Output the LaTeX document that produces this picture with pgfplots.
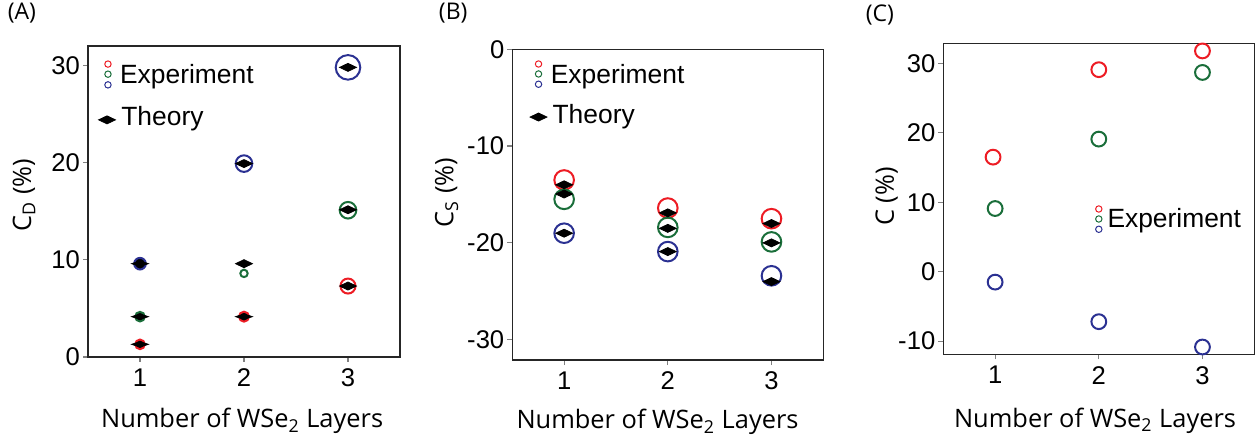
\documentclass[border=0pt]{standalone}
\usepackage{pgfplots}
\pgfplotsset{compat=1.18}
\usepackage{fontspec}
\setmainfont{Liberation Sans}
\newfontfamily\labfont{Open Sans}
\definecolor{cred}{RGB}{237,28,36}
\definecolor{cgreen}{RGB}{26,110,58}
\definecolor{cblue}{RGB}{43,49,146}
\tikzset{
 lt/.style={anchor=base west, inner sep=0pt, font=\fontsize{13.2}{15}\selectfont},
 pl/.style={anchor=center, inner sep=0pt, font=\labfont\fontsize{11.5}{13}\selectfont},
}
\pgfplotsset{
 base/.style={scale only axis, anchor=north west, xmin=0.5, xmax=3.5, xtick={1,2,3},
   tick pos=left, tick align=outside, major tick length=2.5pt,
   tick style={black!50, line width=0.6pt},
   axis line style={black!85, line width=0.6pt},
   ticklabel style={font=\fontsize{12.8}{14}\selectfont},
   yticklabel style={xshift=2pt},
   /pgf/number format/assume math mode=true, clip=false,
   label style={font=\labfont\fontsize{12.7}{15}\selectfont},
   xlabel={Number of WSe\textsubscript{2} Layers},
   ylabel style={anchor=center},
   xlabel style={anchor=center}},
 exp/.style={only marks, mark=o, line width=1pt},
 expf/.style={only marks, mark=*, line width=1pt, mark options={fill=black}},
 th/.style={only marks, mark=diamond*, mark size=2pt, black, mark options={xscale=2.8}},
 legc/.style={only marks, mark=o, mark size=1.6pt, line width=0.5pt},
}
\begin{document}
\begin{tikzpicture}
\useasboundingbox (0,0) rectangle (629pt,219pt);
% ---------- (A)
\begin{axis}[base, at={(44pt,196pt)}, width=156pt, height=155.5pt,
  ymin=0, ymax=32, ytick={0,10,20,30},
  ylabel={C\textsubscript{D} (\%)},
  ylabel style={at={(axis description cs:-0.205,0.521)}},
  xlabel style={at={(axis description cs:0.494,-0.205)}}]
\addplot[expf, cblue, mark size=2.9pt] coordinates {(1,9.6)};
\addplot[expf, cgreen, mark size=2.4pt] coordinates {(1,4.15)};
\addplot[expf, cred, mark size=2.4pt] coordinates {(1,1.3)};
\addplot[exp, cblue, mark size=4.15pt] coordinates {(2,19.9)};
\addplot[exp, cgreen, mark size=1.85pt] coordinates {(2,8.6)};
\addplot[expf, cred, mark size=2.5pt] coordinates {(2,4.15)};
\addplot[exp, cblue, mark size=6.15pt] coordinates {(3,29.8)};
\addplot[exp, cgreen, mark size=4.15pt] coordinates {(3,15.1)};
\addplot[exp, cred, mark size=3.75pt] coordinates {(3,7.3)};
\addplot[th] coordinates {(2,19.9) (2,9.6) (3,29.8) (3,15.15) (3,7.3)};
\addplot[th, mark options={xscale=2.8, yscale=0.7}] coordinates {(1,9.6) (1,4.15) (1,1.3) (2,4.15)};
% legend
\addplot[legc, cred] coordinates {(0.692,30.14)};
\addplot[legc, cgreen] coordinates {(0.692,29.1)};
\addplot[legc, cblue] coordinates {(0.692,28.0)};
\addplot[th] coordinates {(0.683,24.4)};
\node[lt] at (axis cs:0.805,28.16) {Experiment};
\node[lt] at (axis cs:0.817,23.77) {Theory};
\node[pl] at (axis description cs:-0.212,1.106) {(A)};
\end{axis}
% ---------- (B)
\begin{axis}[base, at={(256.15pt,194.35pt)}, width=155.5pt, height=155.35pt,
  ymin=-32.1, ymax=0, ytick={-30,-20,-10,0},
  ylabel={C\textsubscript{S} (\%)},
  ylabel style={at={(axis description cs:-0.211,0.539)}},
  xlabel style={at={(axis description cs:0.467,-0.199)}}]
\addplot[exp, cred, mark size=4.9pt] coordinates {(1,-13.5) (2,-16.4) (3,-17.5)};
\addplot[exp, cgreen, mark size=4.9pt] coordinates {(1,-15.5) (2,-18.4) (3,-19.9)};
\addplot[exp, cblue, mark size=4.9pt] coordinates {(1,-19.0) (2,-20.9) (3,-23.4)};
\addplot[th] coordinates {(1,-14.0) (1,-14.95) (1,-19.0) (2,-16.9) (2,-18.5) (2,-20.9) (3,-18.0) (3,-20.0) (3,-24.0)};
% legend
\addplot[legc, cred] coordinates {(0.753,-1.52)};
\addplot[legc, cgreen] coordinates {(0.753,-2.55)};
\addplot[legc, cblue] coordinates {(0.753,-3.61)};
\addplot[th] coordinates {(0.753,-7.0)};
\node[lt] at (axis cs:0.868,-3.5) {Experiment};
\node[lt] at (axis cs:0.885,-7.63) {Theory};
\node[pl] at (axis description cs:-0.19,1.116) {(B)};
\end{axis}
% ---------- (C)
\begin{axis}[base, at={(471.65pt,197.35pt)}, width=155.5pt, height=155.5pt,
  ymin=-11.9, ymax=32.9, ytick={-10,0,10,20,30},
  ylabel={C (\%)},
  ylabel style={at={(axis description cs:-0.182,0.507)}},
  xlabel style={at={(axis description cs:0.488,-0.213)}}]
\addplot[exp, cred, mark size=3.7pt] coordinates {(0.98,16.5) (2,29.1) (3,31.8)};
\addplot[exp, cgreen, mark size=3.7pt] coordinates {(1,9.1) (2,19.1) (3,28.7)};
\addplot[exp, cblue, mark size=3.7pt] coordinates {(1,-1.5) (2,-7.2) (3,-10.85)};
% legend
\addplot[legc, cred] coordinates {(2.0,9.03)};
\addplot[legc, cgreen] coordinates {(2.0,7.59)};
\addplot[legc, cblue] coordinates {(2.0,6.11)};
\node[lt] at (axis cs:2.08,6.34) {Experiment};
\node[pl] at (axis description cs:-0.204,1.091) {(C)};
\end{axis}
\end{tikzpicture}
\end{document}
